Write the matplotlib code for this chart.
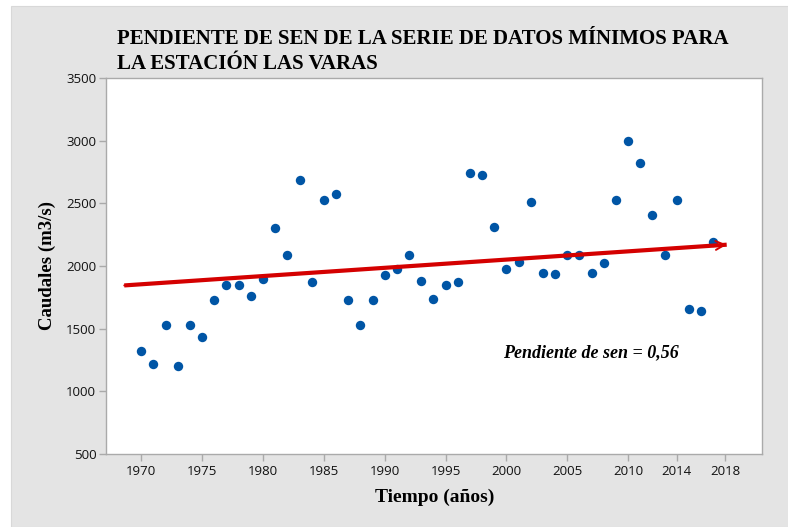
import matplotlib
matplotlib.use("Agg")
import matplotlib.pyplot as plt
from matplotlib.patches import Rectangle

# --- data ---
years = list(range(1970, 2018))
caudales = [
    1320, 1215, 1530, 1205, 1530, 1430, 1725, 1845, 1845, 1760,
    1900, 2300, 2085, 2685, 1870, 2530, 2575, 1725, 1530, 1725,
    1930, 1975, 2085, 1880, 1740, 1845, 1870, 2740, 2725, 2310,
    1975, 2030, 2510, 1945, 1935, 2085, 2085, 1945, 2020, 2530,
    3000, 2825, 2410, 2085, 2530, 1660, 1640, 2195,
]

# Sen slope trend line (start / arrow tip)
trend_years = [1968.6, 2018.1]
trend_values = [1845, 2170]

x_ticks = [1970, 1975, 1980, 1985, 1990, 1995, 2000, 2005, 2010, 2014, 2018]
y_ticks = [500, 1000, 1500, 2000, 2500, 3000, 3500]

title = "PENDIENTE DE SEN DE LA SERIE DE DATOS MÍNIMOS PARA\nLA ESTACIÓN LAS VARAS"
annot = "Pendiente de sen = 0,56"

# --- figure ---
fig = plt.figure(figsize=(7.88, 5.27), dpi=100)
fig.patch.set_facecolor("white")
bg = Rectangle((11 / 788, 0), 1, 1 - 6 / 527, transform=fig.transFigure,
               facecolor="#e4e4e4", edgecolor="#d8d8d8", lw=0.8, zorder=-10)
fig.patches.append(bg)

ax = fig.add_axes([106 / 788, (527 - 454) / 527, (762 - 106) / 788, (454 - 78) / 527])
ax.set_zorder(5)
ax.set_facecolor("white")

ax.scatter(years, caudales, s=46, color="#0055a5", zorder=3, linewidths=0)

# trend line + thin open arrow head at the end
ax.plot(trend_years, trend_values, color="#d40000", lw=3.0, solid_capstyle="butt", zorder=4)
ax.annotate("", xy=(trend_years[1], trend_values[1]), xytext=(trend_years[0], trend_values[0]),
            arrowprops=dict(arrowstyle="->", color="#d40000", lw=1.4,
                            mutation_scale=16, shrinkA=0, shrinkB=0), zorder=4)

ax.text(2006.9, 1306, annot, fontsize=13, fontweight="bold", style="italic",
        family="Liberation Serif", ha="center", va="center")

ax.set_xlim(1967.1, 2021.0)
ax.set_ylim(500, 3500)
ax.set_xticks(x_ticks)
ax.set_yticks(y_ticks)

for s in ax.spines.values():
    s.set_color("#aaaaaa")
    s.set_linewidth(1.0)
ax.tick_params(axis="both", color="#aaaaaa", length=5, width=1.0, labelsize=9.5,
               labelcolor="#111111")
for lab in ax.get_xticklabels() + ax.get_yticklabels():
    lab.set_family("Open Sans")
ax.tick_params(axis="x", pad=3)
ax.tick_params(axis="y", pad=2)

fig.text(117 / 788, 1 - 69 / 527, title, fontsize=15, fontweight="bold",
         family="Liberation Serif", ha="left", va="baseline", linespacing=1.36)

fig.text(47 / 788, 1 - 266 / 527, "Caudales (m3/s)", fontsize=13.5, fontweight="bold",
         family="Liberation Serif", rotation=90, ha="center", va="center")
fig.text(435 / 788, 1 - 497 / 527, "Tiempo (años)", fontsize=14, fontweight="bold",
         family="Liberation Serif", ha="center", va="center")

fig.savefig("out.png", dpi=100, facecolor=fig.get_facecolor())
